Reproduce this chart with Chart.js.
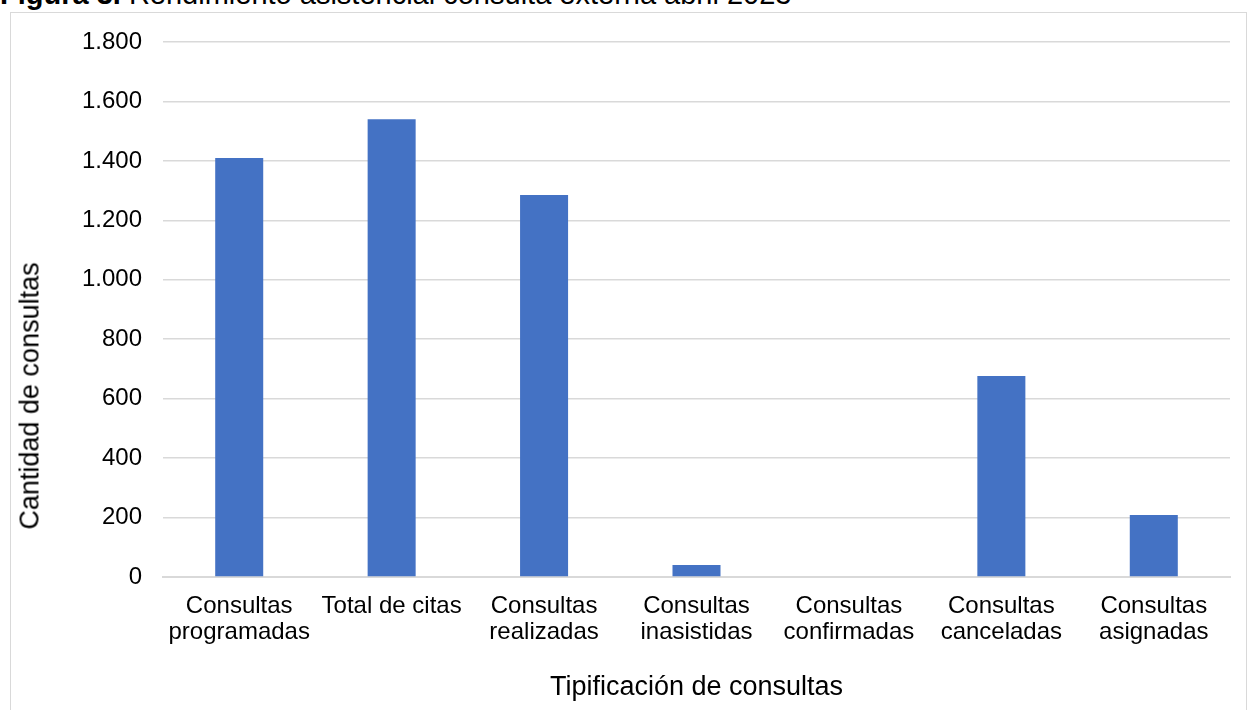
<!DOCTYPE html>
<html>
<head>
<meta charset="utf-8">
<script src="https://cdn.jsdelivr.net/npm/chart.js@4.4.0/dist/chart.umd.min.js"></script>
<style>
    body { margin: 0; background: #fff; overflow: hidden; }
    #wrap { position: relative; width: 1251px; height: 710px; overflow: hidden; }
    #titulo {
        position: absolute; left: 0; top: -20px;
        font-family: "Liberation Sans", Arial, sans-serif; font-size: 29px; line-height: 29px;
        color: #000; white-space: nowrap;
    }
    #marco {
        position: absolute; left: 10px; top: 12px; width: 1237px; height: 720px;
        border: 1.5px solid #d9d9d9; box-sizing: border-box;
    }
    #tituloY {
        position: absolute; left: 30px; top: 396px;
        transform: translate(-50%, -50%) rotate(-90deg);
        font-family: "Liberation Sans", Arial, sans-serif; font-size: 27px;
        color: #000; white-space: nowrap;
    }
    canvas { position: absolute; left: 0; top: 0; }
</style>
</head>
<body>
<div id="wrap">
    <div id="marco"></div>
    <div id="titulo"><b>Figura 3.</b> Rendimiento asistencial consulta externa abril 2023</div>
    <canvas id="grafico" width="1251" height="710"></canvas>
    <div id="tituloY">Cantidad de consultas</div>
</div>
<script>
// datos
const categorias = [
    ["Consultas", "programadas"],
    "Total de citas",
    ["Consultas", "realizadas"],
    ["Consultas", "inasistidas"],
    ["Consultas", "confirmadas"],
    ["Consultas", "canceladas"],
    ["Consultas", "asignadas"]
];
const cantidades = [1410, 1540, 1285, 40, 0, 676, 209];
const ticksY = [0, 200, 400, 600, 800, 1000, 1200, 1400, 1600, 1800];

const fuente = "'Liberation Sans', Arial, sans-serif";
Chart.defaults.font.family = fuente;
Chart.defaults.color = '#000';

new Chart("grafico", {
    type: "bar",
    data: {
        labels: categorias,
        datasets: [{
            data: cantidades,
            backgroundColor: "#4472C4",
            barPercentage: 0.63,
            categoryPercentage: 0.5
        }]
    },
    options: {
        responsive: false,
        animation: false,
        layout: { padding: { left: 0, top: 42, right: 21, bottom: 0 } },
        plugins: {
            legend: { display: false },
            tooltip: { enabled: false }
        },
        scales: {
            x: {
                grid: { display: false, drawTicks: false },
                border: { color: '#d9d9d9', width: 2 },
                ticks: { font: { size: 24, lineHeight: 1.09 }, padding: 16, maxRotation: 0, autoSkip: false },
                title: {
                    display: true, text: "Tipificación de consultas",
                    font: { size: 27, lineHeight: 1.2 }, padding: { top: 0, bottom: 6 }
                },
                afterFit: s => { s.height = 133; }
            },
            y: {
                min: 0, max: 1800,
                afterBuildTicks: s => { s.ticks = ticksY.map(v => ({ value: v })); },
                grid: { color: '#d9d9d9', lineWidth: 1.5, drawTicks: false },
                border: { display: false },
                ticks: {
                    font: { size: 24 }, padding: 21,
                    callback: v => v.toLocaleString('de-DE')
                },
                afterFit: s => { s.width = 163; }
            }
        }
    }
});
</script>
</body>
</html>
